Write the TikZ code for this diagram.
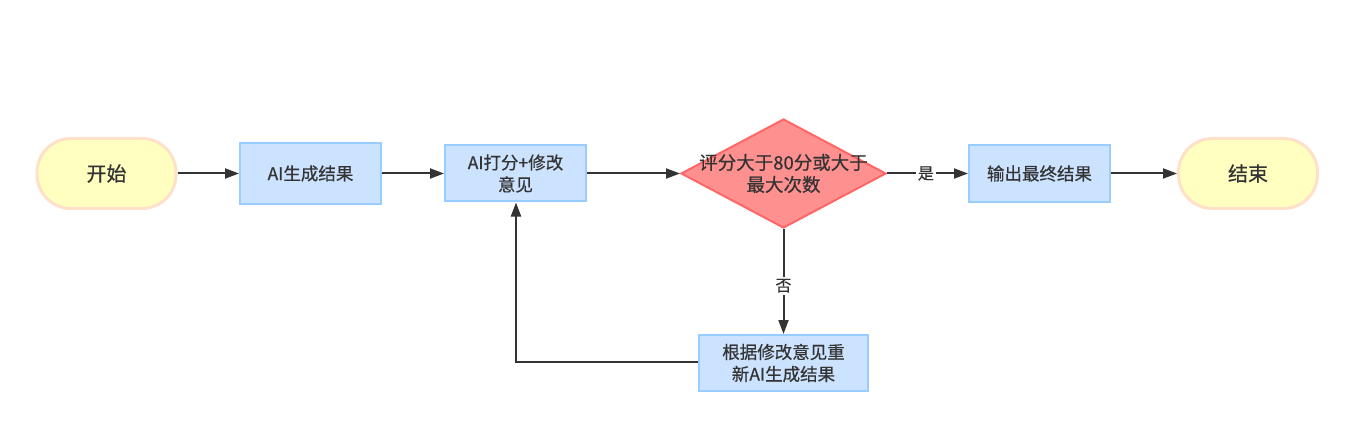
\documentclass[tikz,border=0pt]{standalone}
\usepackage{fontspec}
\setmainfont{Noto Sans CJK SC}[FakeBold=0.5]
\usetikzlibrary{shapes.geometric,arrows.meta}
\definecolor{txt}{HTML}{333333}
\definecolor{termfill}{HTML}{FFFFC0}
\definecolor{termdraw}{HTML}{FFE0C8}
\definecolor{procfill}{HTML}{CCE3FF}
\definecolor{procdraw}{HTML}{99CCFF}
\definecolor{decfill}{HTML}{FF9090}
\definecolor{decdraw}{HTML}{FF6666}
\begin{document}
\begin{tikzpicture}[x=1pt,y=-1pt,
  term/.style={draw=termdraw,fill=termfill,line width=3pt,rounded corners=34pt,minimum width=139pt,minimum height=70pt,text=txt,font=\fontsize{20}{24}\selectfont,inner sep=0pt},
  proc/.style={draw=procdraw,fill=procfill,line width=2pt,text=txt,font=\fontsize{17.5}{22}\selectfont,align=center,inner sep=0pt},
  dec/.style={draw=decdraw,fill=decfill,line width=2pt,diamond,aspect=1.88,minimum width=205pt,minimum height=109pt,text=txt,font=\fontsize{18.5}{22}\selectfont,align=center,inner sep=-20pt},
  conn/.style={draw=txt,line width=2pt,-{Triangle[length=14pt,width=10pt]}},
  lbl/.style={fill=white,text=txt,font=\fontsize{16}{18}\selectfont,inner sep=2pt}]
\useasboundingbox (0,0) rectangle (1361,441);
\fill[white] (0,0) rectangle (1361,441);
\node[term] (start) at (106.5,173.5) {开始};
\node[proc,minimum width=141pt,minimum height=61pt] (gen) at (310.5,173.5) {AI生成结果};
\node[proc,minimum width=141pt,minimum height=56pt] (score) at (515.5,173.5) {AI打分+修改\\意见};
\node[dec] (dec) at (783.5,173.5) {评分大于80分或大于\\最大次数};
\node[proc,minimum width=141pt,minimum height=57pt] (out) at (1039.5,173.5) {输出最终结果};
\node[term] (end) at (1248,173.5) {结束};
\node[proc,minimum width=169pt,minimum height=56pt] (regen) at (783.5,363) {根据修改意见重\\新AI生成结果};
\coordinate (corner) at (516,362);
\draw[conn] (start.east) -- (gen.west);
\draw[conn] (gen.east) -- (score.west);
\draw[conn] (score.east) -- (dec.west);
\draw[conn] (dec.east) -- node[lbl,pos=0.48] {是} (out.west);
\draw[conn] (out.east) -- (end.west);
\draw[conn] (dec.south) -- node[lbl,pos=0.54] {否} (regen.north);
\draw[conn] (regen.west |- corner) -- (corner) -- (score.south -| corner);
\end{tikzpicture}
\end{document}
